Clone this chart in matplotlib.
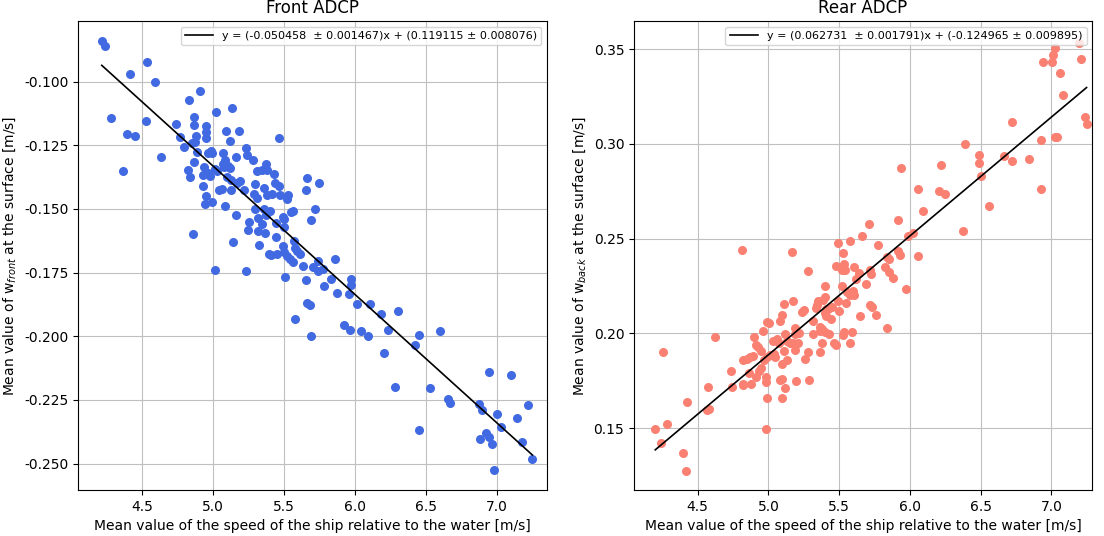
import numpy as np
import matplotlib
matplotlib.use("Agg")
import matplotlib.pyplot as plt

plt.rcParams['axes.unicode_minus'] = False

# Front ADCP: speed of ship relative to water [m/s] vs mean w_front [m/s]
front_speed = [
    4.216, 4.237, 4.533, 4.415, 4.589, 4.284, 4.526, 4.392, 4.449, 4.364,
    4.908, 4.833, 5.136, 5.021, 4.866, 4.737, 4.866, 4.953, 4.949, 5.094,
    5.185, 4.770, 4.880, 4.949, 5.122, 5.463, 4.634, 4.798, 4.850, 4.873,
    4.887, 4.963, 4.986, 4.995, 5.070, 5.232, 5.242, 5.164, 5.284, 4.868,
    4.939, 5.077, 5.104, 5.118, 5.087, 5.073, 4.822, 4.838, 4.927, 4.963,
    4.979, 5.012, 5.028, 5.373, 5.312, 5.347, 5.382, 5.432, 5.096, 5.129,
    5.192, 5.167, 4.927, 5.044, 5.063, 5.127, 5.218, 5.296, 5.287, 5.312,
    5.361, 5.435, 5.467, 5.418, 5.378, 5.472, 5.526, 5.521, 4.951, 4.991,
    4.946, 5.085, 5.164, 5.660, 5.746, 5.653, 5.718, 5.688, 5.565, 5.549,
    5.491, 5.500, 5.296, 5.361, 5.404, 5.315, 5.375, 5.251, 5.345, 5.442,
    5.502, 5.244, 5.315, 5.364, 5.444, 4.859, 5.139, 5.326, 5.493, 5.568,
    5.575, 5.594, 5.613, 5.392, 5.408, 5.449, 5.502, 5.519, 5.542, 5.563,
    5.636, 5.702, 5.739, 5.857, 5.742, 5.773, 5.833, 5.782, 5.653, 5.507,
    5.230, 5.016, 5.972, 5.972,
    5.871, 5.958, 5.664, 5.683, 6.012, 6.106, 6.181, 6.301, 5.920, 5.965,
    6.042, 6.092, 6.230, 6.451, 6.599, 5.690, 6.425, 6.204, 5.577,
    6.282, 6.528, 6.942, 7.101, 6.657, 6.669, 6.873, 6.892, 6.998, 7.216,
    7.143, 7.028, 6.451, 6.925, 6.946, 6.882, 6.965, 7.178, 7.249, 6.981,
]
front_w = [
    -0.0840, -0.0862, -0.0924, -0.0969, -0.1000, -0.1141, -0.1154, -0.1205, -0.1213, -0.1350,
    -0.1036, -0.1071, -0.1103, -0.1119, -0.1140, -0.1166, -0.1170, -0.1174, -0.1197, -0.1195,
    -0.1194, -0.1216, -0.1212, -0.1220, -0.1232, -0.1222, -0.1298, -0.1255, -0.1242, -0.1236,
    -0.1275, -0.1281, -0.1272, -0.1281, -0.1279, -0.1259, -0.1288, -0.1297, -0.1309, -0.1314,
    -0.1334, -0.1336, -0.1331, -0.1339, -0.1307, -0.1322, -0.1347, -0.1375, -0.1366, -0.1357,
    -0.1369, -0.1344, -0.1353, -0.1323, -0.1351, -0.1348, -0.1347, -0.1361, -0.1373, -0.1386,
    -0.1389, -0.1399, -0.1411, -0.1424, -0.1423, -0.1425, -0.1425, -0.1403, -0.1442, -0.1458,
    -0.1416, -0.1398, -0.1411, -0.1442, -0.1446, -0.1445, -0.1446, -0.1460, -0.1449, -0.1474,
    -0.1480, -0.1489, -0.1522, -0.1377, -0.1397, -0.1425, -0.1500, -0.1543, -0.1507, -0.1512,
    -0.1533, -0.1540, -0.1500, -0.1501, -0.1507, -0.1534, -0.1524, -0.1550, -0.1559, -0.1554,
    -0.1570, -0.1581, -0.1585, -0.1593, -0.1609, -0.1598, -0.1630, -0.1641, -0.1645, -0.1626,
    -0.1654, -0.1665, -0.1677, -0.1677, -0.1682, -0.1677, -0.1670, -0.1683, -0.1698, -0.1708,
    -0.1724, -0.1729, -0.1703, -0.1698, -0.1744, -0.1736, -0.1774, -0.1801, -0.1778, -0.1766,
    -0.1745, -0.1740, -0.1776, -0.1800,
    -0.1831, -0.1834, -0.1870, -0.1878, -0.1874, -0.1872, -0.1911, -0.1902, -0.1957, -0.1976,
    -0.1980, -0.1999, -0.1975, -0.1995, -0.1979, -0.1999, -0.2033, -0.2064, -0.1933,
    -0.2200, -0.2202, -0.2139, -0.2151, -0.2246, -0.2261, -0.2267, -0.2289, -0.2305, -0.2270,
    -0.2320, -0.2356, -0.2368, -0.2379, -0.2396, -0.2403, -0.2423, -0.2415, -0.2481, -0.2525,
]

# Rear ADCP: speed of ship relative to water [m/s] vs mean w_back [m/s]
rear_speed = [
    4.816, 4.257, 4.622, 4.200, 4.283, 4.243, 4.398, 4.417, 4.422, 4.571,
    4.564, 4.578, 4.733, 4.743, 4.818, 4.823, 4.877, 4.896, 4.823, 4.847,
    4.870, 4.889, 4.865, 4.910, 4.934, 4.948, 4.912, 4.929, 4.946, 4.964,
    4.988, 5.006, 4.981, 4.981, 4.992, 4.983, 5.110, 5.172, 5.099, 5.082,
    5.238, 5.252, 5.188, 5.118, 5.031, 5.059, 5.073, 5.134, 5.153, 5.176,
    5.209, 5.188, 5.112, 5.047, 5.040, 4.971, 4.992, 5.011, 5.130, 5.098,
    5.261, 5.082, 5.098, 5.193, 5.120, 5.099, 5.289, 5.282, 5.318, 5.365,
    5.400, 5.431, 5.530, 5.535, 5.593, 5.377, 5.464, 5.478, 5.575, 5.365,
    6.056, 6.209, 6.091, 5.709, 5.917, 5.662, 5.575, 5.494, 5.773, 5.526,
    5.165, 5.985, 6.020, 5.919, 5.931, 6.058, 5.837, 5.853, 5.478, 5.511,
    5.535, 5.544, 5.521, 5.605, 5.639, 5.282, 5.719, 5.728, 5.827, 5.851,
    5.879, 5.622, 5.518, 5.403, 5.690, 5.971, 5.558, 5.601, 5.608, 5.575,
    5.584, 5.400, 5.384, 5.353, 5.342, 5.337, 5.450, 5.424, 5.408, 5.494,
    5.497, 5.549, 5.400, 5.410, 5.441, 5.313, 5.721, 5.731, 5.648, 5.759,
    5.837, 5.188, 5.214, 5.365, 5.377,
    7.199, 7.027, 7.011, 6.944, 7.006, 7.211, 7.060, 7.081, 7.237, 7.249,
    6.723, 6.928, 7.025, 7.039, 6.388, 6.489, 6.487, 6.668, 6.725, 6.841,
    6.219, 5.940, 6.504, 6.249, 6.928, 6.558, 6.376,
]
rear_w = [
    0.2440, 0.1903, 0.1983, 0.1495, 0.1523, 0.1420, 0.1367, 0.1275, 0.1638, 0.1715,
    0.1596, 0.1603, 0.1801, 0.1717, 0.1733, 0.1726, 0.1733, 0.1981, 0.1860, 0.1865,
    0.1877, 0.1882, 0.1792, 0.1771, 0.1803, 0.1819, 0.1939, 0.1930, 0.1909, 0.2014,
    0.2059, 0.2053, 0.1771, 0.1745, 0.1659, 0.1497, 0.2155, 0.2173, 0.2097, 0.2065,
    0.2115, 0.2124, 0.2030, 0.1995, 0.1961, 0.1969, 0.1948, 0.1960, 0.1948, 0.1948,
    0.1948, 0.1912, 0.1907, 0.1877, 0.1891, 0.1860, 0.1877, 0.1886, 0.1860, 0.1838,
    0.1866, 0.1754, 0.1759, 0.1749, 0.1713, 0.1659, 0.1754, 0.1903, 0.1995, 0.2013,
    0.2009, 0.1997, 0.1992, 0.2009, 0.2009, 0.1948, 0.1948, 0.1939, 0.1948, 0.1902,
    0.2762, 0.2753, 0.2646, 0.2578, 0.2597, 0.2514, 0.2489, 0.2476, 0.2465, 0.2426,
    0.2428, 0.2516, 0.2528, 0.2437, 0.2414, 0.2410, 0.2402, 0.2391, 0.2356, 0.2349,
    0.2366, 0.2335, 0.2335, 0.2351, 0.2320, 0.2329, 0.2333, 0.2312, 0.2351, 0.2323,
    0.2294, 0.2286, 0.2252, 0.2248, 0.2261, 0.2234, 0.2219, 0.2224, 0.2203, 0.2203,
    0.2212, 0.2194, 0.2176, 0.2173, 0.2150, 0.2132, 0.2141, 0.2130, 0.2127, 0.2173,
    0.2120, 0.2159, 0.2109, 0.2090, 0.2074, 0.2065, 0.2150, 0.2141, 0.2093, 0.2097,
    0.2030, 0.1997, 0.2001, 0.2035, 0.2022,
    0.3535, 0.3507, 0.3468, 0.3431, 0.3431, 0.3449, 0.3373, 0.3259, 0.3143, 0.3106,
    0.3116, 0.3021, 0.3037, 0.3039, 0.2998, 0.2940, 0.2898, 0.2937, 0.2910, 0.2921,
    0.2889, 0.2872, 0.2833, 0.2736, 0.2762, 0.2673, 0.2542,
]

# fit coefficients as printed in the legends
front_fit = (-0.050458, 0.001467, 0.119115, 0.008076)
rear_fit = (0.062731, 0.001791, -0.124965, 0.009895)

fig = plt.figure(figsize=(11.04, 5.36), dpi=100)
ax1 = fig.add_axes([0.0707, 0.0858, 0.4248, 0.875])
ax2 = fig.add_axes([0.5743, 0.0858, 0.4149, 0.875])


def draw(ax, xs, ys, fit, color, title, ylabel, label):
    xs = np.array(xs)
    ys = np.array(ys)
    ax.scatter(xs, ys, s=30, color=color, zorder=2)
    xl = np.array([xs.min(), xs.max()])
    ax.plot(xl, fit[0] * xl + fit[2], color="black", lw=1.2, label=label, zorder=3)
    ax.grid(True, color="#c0c0c0", lw=0.8)
    ax.set_axisbelow(True)
    ax.set_title(title, fontsize=12)
    ax.set_xlabel("Mean value of the speed of the ship relative to the water [m/s]", fontsize=10)
    ax.set_ylabel(ylabel, fontsize=10)
    ax.tick_params(labelsize=10)
    ax.legend(loc="upper right", fontsize=8, handlelength=2.5)


draw(ax1, front_speed, front_w, front_fit, "royalblue", "Front ADCP",
     "Mean value of w$_{front}$ at the surface [m/s]",
     "y = (%.6f  ± %.6f)x + (%.6f ± %.6f)" % front_fit)
draw(ax2, rear_speed, rear_w, rear_fit, "salmon", "Rear ADCP",
     "Mean value of w$_{back}$ at the surface [m/s]",
     "y = (%.6f  ± %.6f)x + (%.6f ± %.6f)" % rear_fit)

ax1.set_xlim(4.049, 7.352)
ax1.set_ylim(-0.2604, -0.0762)
ax1.set_yticks([-0.250, -0.225, -0.200, -0.175, -0.150, -0.125, -0.100])
ax2.set_xlim(4.050, 7.288)
ax2.set_ylim(0.1173, 0.3649)

fig.savefig("out.png", dpi=100)
